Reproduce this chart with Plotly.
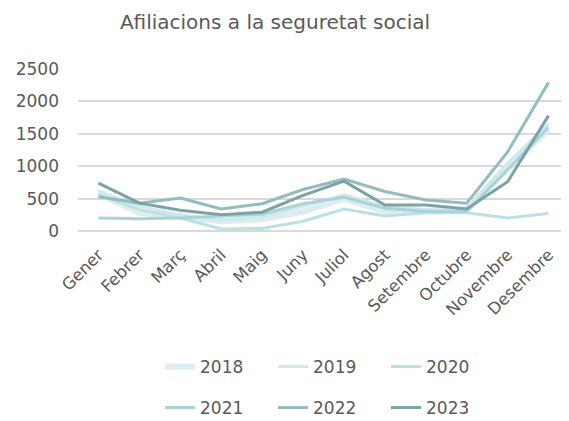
import plotly.graph_objects as go

months = ["Gener", "Febrer", "Març", "Abril", "Maig", "Juny", "Juliol",
          "Agost", "Setembre", "Octubre", "Novembre", "Desembre"]

y2018 = [580, 280, 220, 150, 180, 300, 500, 300, 300, 320, 950, 1570]
y2019 = [620, 380, 250, 170, 220, 380, 560, 380, 330, 350, 1050, 1650]
y2020 = [560, 330, 200, 30, 40, 150, 340, 230, 280, 280, 200, 270]
y2021 = [200, 190, 200, 230, 260, 420, 520, 350, 300, 300, 950, 1600]
y2022 = [530, 430, 510, 340, 420, 640, 800, 610, 480, 430, 1220, 2290]
y2023 = [740, 430, 320, 250, 290, 550, 770, 400, 400, 340, 760, 1780]

series = [
    ("2018", y2018, "#dcedef", 6, "legend"),
    ("2019", y2019, "#cfe8ec", 3, "legend"),
    ("2020", y2020, "#bde0e4", 3, "legend"),
    ("2021", y2021, "#a9d3d7", 3, "legend2"),
    ("2022", y2022, "#93bcbf", 3, "legend2"),
    ("2023", y2023, "#7da2a5", 3, "legend2"),
]

fig = go.Figure()
for name, vals, color, w, lg in series:
    fig.add_trace(go.Scatter(x=months, y=vals, name=name, mode="lines",
                             line=dict(color=color, width=w), legend=lg))

W, H = 561, 413  # page body adds an 8px offset
font_family = "DejaVu Sans"
txt = "#595959"
leg_common = dict(orientation="h", xref="container", yref="container",
                  xanchor="left", yanchor="middle", bgcolor="rgba(0,0,0,0)",
                  font=dict(family=font_family, size=17, color=txt),
                  entrywidth=68, entrywidthmode="pixels", itemwidth=30)

fig.update_layout(
    width=W, height=H,
    paper_bgcolor="white", plot_bgcolor="white",
    margin=dict(l=70, r=0, t=61, b=190),
    font=dict(family=font_family, color=txt),
    title=dict(text="Afiliacions a la seguretat social", x=267 / W, xanchor="center",
               y=1 - 14 / H, yanchor="middle", font=dict(size=20, color=txt, family=font_family)),
    xaxis=dict(type="category", range=[-0.5, 11.5], tickangle=-45, showgrid=False,
               showline=False, ticks="", ticklabelstandoff=10,
               tickfont=dict(size=16.5, color=txt)),
    yaxis=dict(range=[0, 2500], tickvals=[0, 500, 1000, 1500, 2000, 2500],
               showgrid=True, gridcolor="#d9d9d9", gridwidth=1.5,
               zeroline=True, zerolinecolor="#d9d9d9", zerolinewidth=1.5,
               ticks="", ticklabelstandoff=18, tickfont=dict(size=17, color=txt)),
    legend=dict(x=152 / W, y=1 - 359 / H, **leg_common),
    legend2=dict(x=152 / W, y=1 - 400 / H, **leg_common),
)

fig.write_html("out.html")
